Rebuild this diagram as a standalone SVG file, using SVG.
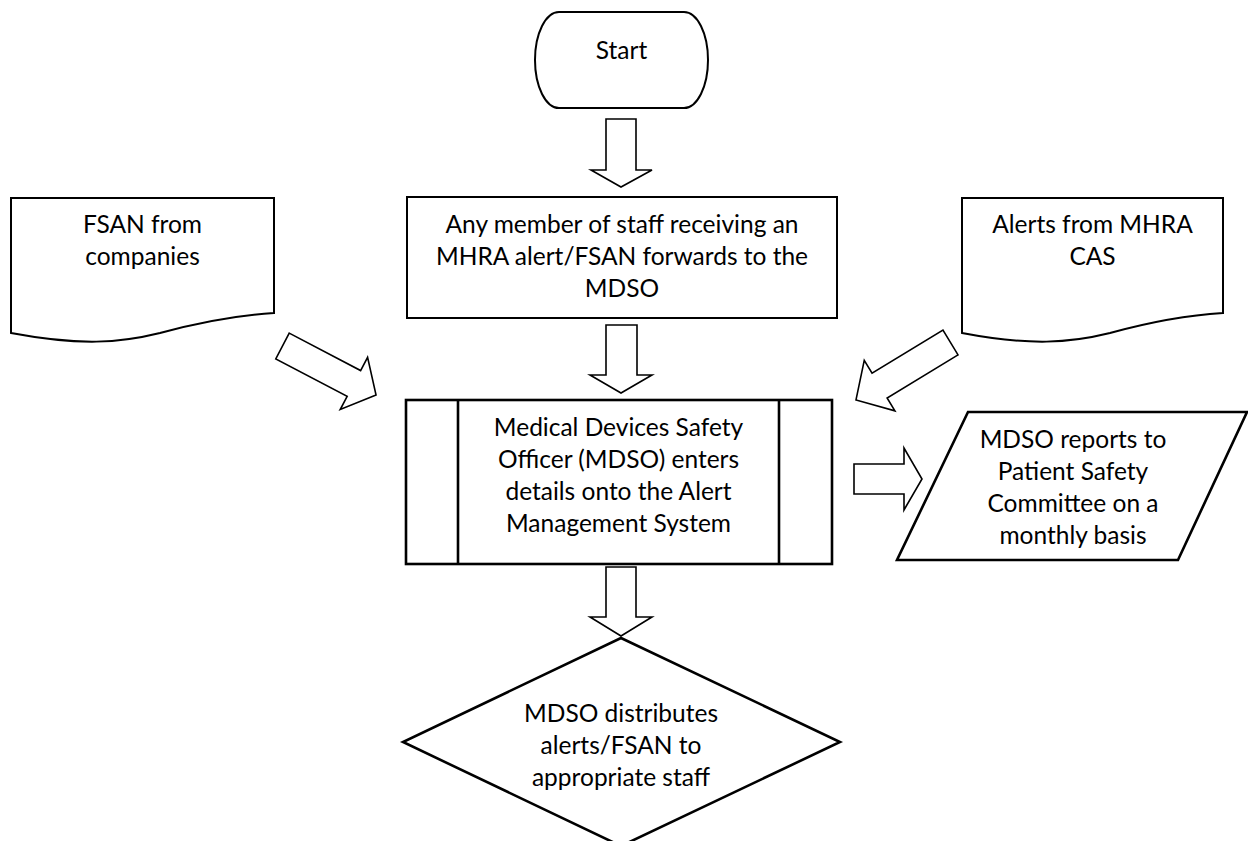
<svg xmlns="http://www.w3.org/2000/svg" width="1248" height="841" viewBox="0 0 1248 841">
<style>
  .shape { fill: #ffffff; stroke: #000000; stroke-width: 2; stroke-linejoin: miter; }
  .thick { stroke-width: 2.6; }
  .arrow { fill: #ffffff; stroke: #000000; stroke-width: 1.6; stroke-linejoin: miter; }
  text { font-family: Lato, "Open Sans", sans-serif; font-size: 24.5px; fill: #000000; text-anchor: middle; }
</style>
<defs>
  <polygon id="blockArrowDiag" points="0,-14.5 80.6,-14.5 80.6,-29.5 105.6,0 80.6,29.5 80.6,14.5 0,14.5"/>
</defs>
<rect width="1248" height="841" fill="#ffffff"/>

<g id="connectors">
  <polygon class="arrow" points="606,119 636,119 636,170 652,170 621,187 591,170 606,170"/>
  <polygon class="arrow" points="606,325 637,325 637,375 652,375 621,393 590,375 606,375"/>
  <polygon class="arrow" points="606,567 636,567 636,617 652,617 621,636 590,617 606,617"/>
  <polygon class="arrow" points="854,464 904,464 904,448 922,479 904,510 904,494 854,494"/>
  <use href="#blockArrowDiag" class="arrow" transform="translate(282.5,346) rotate(27.65)"/>
  <polygon class="arrow" transform="translate(950.5,342.5) rotate(148.7)" points="0,-14.5 83,-14.5 83,-29.5 110.6,0 83,29.5 83,14.5 0,14.5"/>
</g>

<g id="start">
  <rect class="shape" x="535" y="12" width="173" height="96" rx="24" ry="48"/>
  <text x="621.5" y="59">Start</text>
</g>

<g id="staff-forward">
  <rect class="shape" x="407" y="197" width="430" height="121"/>
  <text x="622" y="233">Any member of staff receiving an</text>
  <text x="622" y="265">MHRA alert/FSAN forwards to the</text>
  <text x="622" y="297">MDSO</text>
</g>

<g id="fsan-companies">
  <path class="shape" d="M11,198 L274,198 L274,313 C240,315 200,322 160,333 C120,343 80,346 11,333 Z"/>
  <text x="142.5" y="233">FSAN from</text>
  <text x="142.5" y="265">companies</text>
</g>

<g id="alerts-mhra">
  <path class="shape" d="M962,198 L1223,198 L1223,313 C1190,315 1150,322 1110,333 C1070,343 1030,346 962,333 Z"/>
  <text x="1092.5" y="233">Alerts from MHRA</text>
  <text x="1092.5" y="265">CAS</text>
</g>

<g id="mdso-enters">
  <rect class="shape thick" x="406" y="400" width="426" height="164"/>
  <line class="shape thick" x1="458" y1="400" x2="458" y2="564"/>
  <line class="shape thick" x1="779" y1="400" x2="779" y2="564"/>
  <text x="618.5" y="436">Medical Devices Safety</text>
  <text x="618.5" y="468">Officer (MDSO) enters</text>
  <text x="618.5" y="500">details onto the Alert</text>
  <text x="618.5" y="532">Management System</text>
</g>

<g id="mdso-reports">
  <polygon class="shape thick" points="968,412 1247,412 1178,560 897,560"/>
  <text x="1073" y="448">MDSO reports to</text>
  <text x="1073" y="480">Patient Safety</text>
  <text x="1073" y="512">Committee on a</text>
  <text x="1073" y="544">monthly basis</text>
</g>

<g id="mdso-distributes">
  <polygon class="shape thick" points="621,638 840,742 621,846 403,742"/>
  <text x="621" y="722">MDSO distributes</text>
  <text x="621" y="754">alerts/FSAN to</text>
  <text x="621" y="786">appropriate staff</text>
</g>
</svg>
